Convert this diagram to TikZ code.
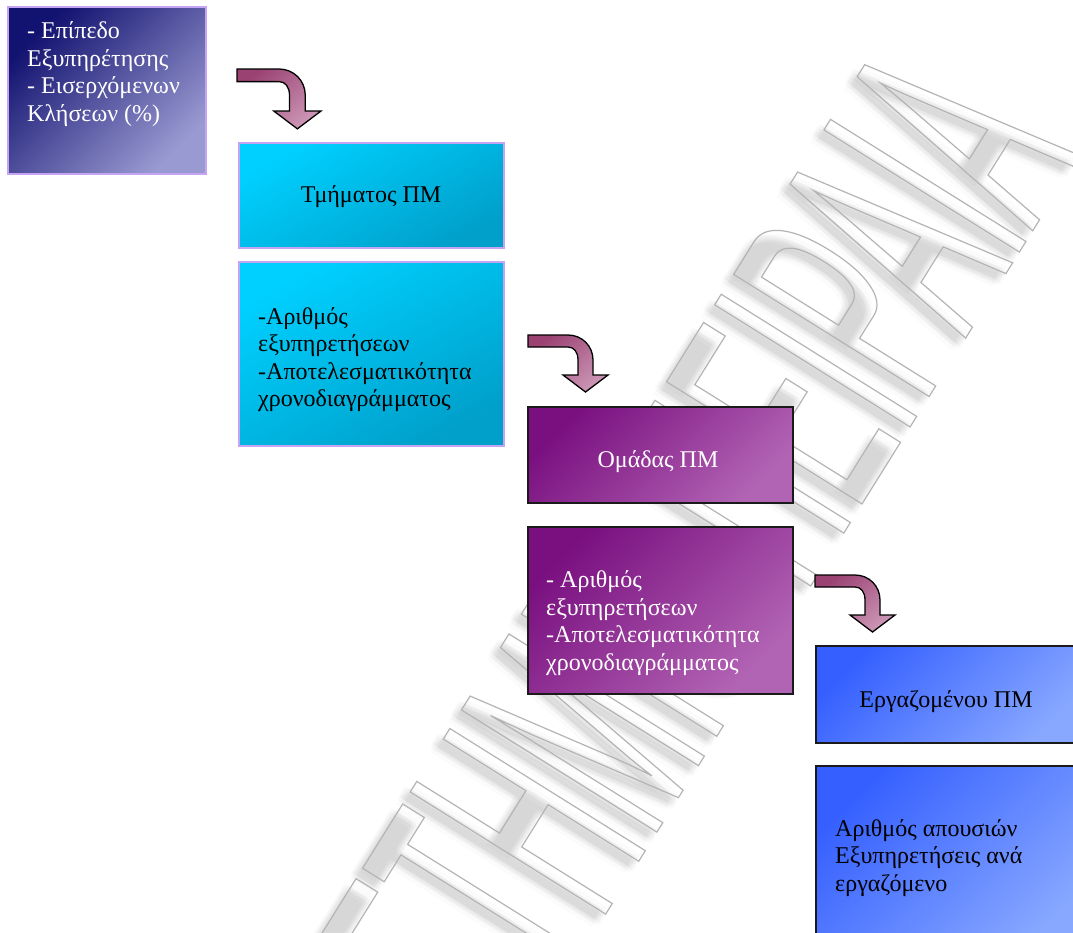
\documentclass[tikz,border=0pt]{standalone}
\usepackage{fontspec}
\setmainfont{Liberation Serif}
\newfontfamily\markfont[FakeStretch=0.4]{Liberation Sans}

\definecolor{lavedge}{HTML}{C6A4F4}
\definecolor{darkedge}{HTML}{1A1A1A}
\definecolor{navyA}{HTML}{121270}
\definecolor{navyB}{HTML}{9A9AD2}
\definecolor{cyanA}{HTML}{00D0FF}
\definecolor{cyanB}{HTML}{00A0CA}
\definecolor{plumA}{HTML}{7A1080}
\definecolor{plumB}{HTML}{B264B4}
\definecolor{blueA}{HTML}{3560FF}
\definecolor{blueB}{HTML}{88A8FF}
\definecolor{arrowA}{HTML}{9A4272}
\definecolor{arrowB}{HTML}{CC96B6}
\definecolor{markgray}{HTML}{B4B4B4}

\tikzset{
  panel/.style={rectangle, inner sep=0pt, line width=2pt, anchor=north west},
  lavpanel/.style={panel, draw=lavedge},
  darkpanel/.style={panel, draw=darkedge},
  txt/.style={inner sep=0pt, align=left, font=\fontsize{24}{27.5}\selectfont},
  arrowfill/.style={draw=black, line width=1.3pt, line join=miter,
    top color=arrowA, bottom color=arrowB, shading angle=40},
  bendarrow/.pic={
    \path[arrowfill] (0,0) -- (40,0) .. controls (54,0) and (65,11) .. (65,25)
      -- (65,40) -- (80,40) -- (57.5,57) -- (35,40) -- (50,40) -- (50,25)
      .. controls (50,17) and (46,12) .. (40,12) -- (0,12) -- cycle;
  }
}

\begin{document}
\begin{tikzpicture}[x=1pt,y=-1pt]
\useasboundingbox (0,0) rectangle (1073,932);
\clip (0,0) rectangle (1073,932);
\fill[white] (0,0) rectangle (1073,932);

% faint outlined watermark with a soft shadow
\foreach \dx/\dy [count=\i] in {-4/4,-7/7,-10/10,-6/9,-9/6,-8/12,-12/8,-13/13,-5/11,-11/5} {
  \node (shadow\i) [rotate=58, anchor=base east, inner sep=0pt, text=black,
    text opacity=0.016] at (1080+\dx,155+\dy)
    {\fontsize{335}{335}\selectfont\markfont ΠΑΝΕΠΙΣΤΗΜΙΟ ΠΕΙΡΑΙΑ};
}
\node (mark) [rotate=58, anchor=base east, inner sep=0pt, text=markgray]
  at (1080,155)
  {\fontsize{335}{335}\selectfont\markfont\special{pdf:code 1 Tr 1.2 w}ΠΑΝΕΠΙΣΤΗΜΙΟ ΠΕΙΡΑΙΑ\special{pdf:code 0 Tr}};

% curved block arrows
\pic (arrowone) [scale=1.05] at (237,69) {bendarrow};
\pic (arrowtwo) at (528,335) {bendarrow};
\pic (arrowthree) at (815,575) {bendarrow};

% panels
\node (b1) [lavpanel, minimum width=198pt, minimum height=167pt,
  top color=navyA, bottom color=navyB, shading angle=45] at (7,6) {};
\node (b2) [lavpanel, minimum width=265pt, minimum height=105pt,
  top color=cyanA, bottom color=cyanB, shading angle=30] at (238,142) {};
\node (b3) [lavpanel, minimum width=265pt, minimum height=184pt,
  top color=cyanA, bottom color=cyanB, shading angle=30] at (238,261) {};
\node (b4) [darkpanel, minimum width=265pt, minimum height=96pt,
  top color=plumA, bottom color=plumB, shading angle=45] at (527,406) {};
\node (b5) [darkpanel, minimum width=265pt, minimum height=167pt,
  top color=plumA, bottom color=plumB, shading angle=45] at (527,526) {};
\node (b6) [darkpanel, minimum width=270pt, minimum height=97pt,
  top color=blueA, bottom color=blueB, shading angle=45] at (815,645) {};
\node (b7) [darkpanel, minimum width=270pt, minimum height=190pt,
  top color=blueA, bottom color=blueB, shading angle=45] at (815,765) {};

% panel texts (multi-line nodes are placed by their last baseline)
\node (t1) [txt, text=white, anchor=base west] at (27,121)
  {- Επίπεδο\\Εξυπηρέτησης\\- Εισερχόμενων\\Κλήσεων (\%)};
\node (t2) [txt, anchor=base] at (371,202) {Τμήματος ΠΜ};
\node (t3) [txt, anchor=base west] at (258,406.5)
  {-Αριθμός\\εξυπηρετήσεων\\-Αποτελεσματικότητα\\χρονοδιαγράμματος};
\node (t4) [txt, text=white, anchor=base] at (658,467) {Ομάδας ΠΜ};
\node (t5) [txt, text=white, anchor=base west] at (546,670)
  {- Αριθμός\\εξυπηρετήσεων\\-Αποτελεσματικότητα\\χρονοδιαγράμματος};
\node (t6) [txt, anchor=base] at (946,707) {Εργαζομένου ΠΜ};
\node (t7) [txt, anchor=base west] at (835,891)
  {Αριθμός απουσιών\\Εξυπηρετήσεις ανά\\εργαζόμενο};
\end{tikzpicture}
\end{document}
